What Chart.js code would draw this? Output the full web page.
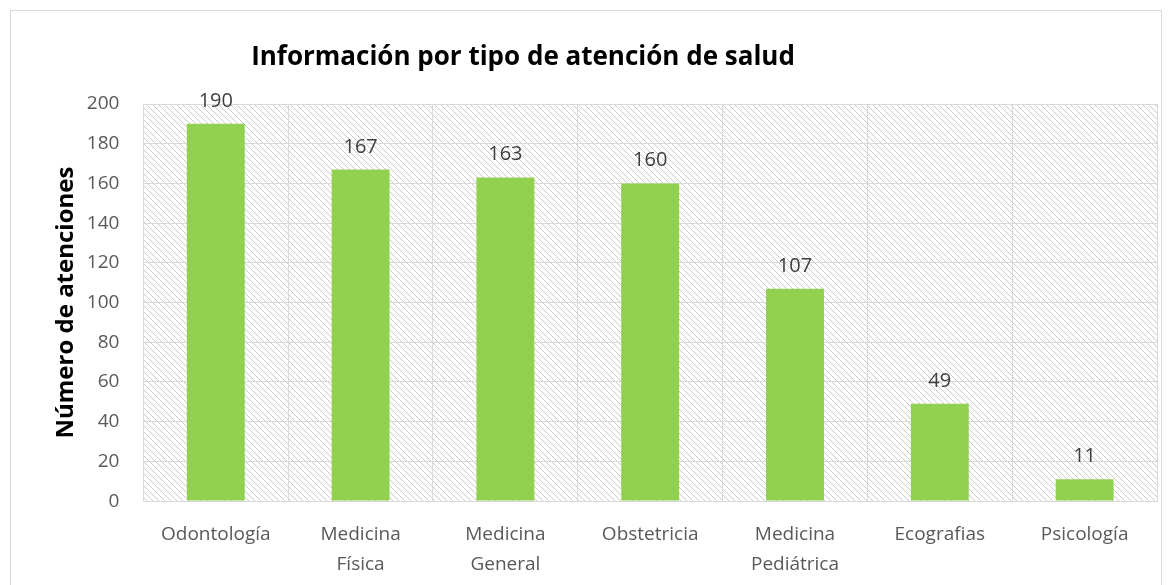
<!DOCTYPE html>
<html>
<head>
<meta charset="utf-8">
<script src="https://cdn.jsdelivr.net/npm/chart.js@4.4.0/dist/chart.umd.min.js"></script>
<style>
  html, body { margin: 0; padding: 0; background: #fff; }
  #wrap { position: relative; width: 1172px; height: 585px; }
  #frame { position: absolute; left: 10px; top: 10px; width: 1152px; height: 590px; border: 1px solid #d9d9d9; box-sizing: border-box; }
  canvas { position: absolute; left: 0; top: 0; }
</style>
</head>
<body>
<div id="wrap">
  <div id="frame"></div>
  <canvas id="atenciones" width="1172" height="585"></canvas>
</div>
<script>
// datos
const categorias = ['Odontología', ['Medicina', 'Física'], ['Medicina', 'General'], 'Obstetricia', ['Medicina', 'Pediátrica'], 'Ecografias', 'Psicología'];
const atenciones = [190, 167, 163, 160, 107, 49, 11];
const titulo = 'Información por tipo de atención de salud';
const tituloEje = 'Número de atenciones';

const fuente = '"Open Sans", Lato, sans-serif';

// fondo rayado del área de trazado
function patronRayas(ctx) {
    const c = document.createElement('canvas');
    c.width = 6; c.height = 6;
    const p = c.getContext('2d');
    p.strokeStyle = '#c9c9c9';
    p.lineWidth = 1;
    p.beginPath();
    p.moveTo(0, 0); p.lineTo(6, 6);
    p.moveTo(-3, 3); p.lineTo(3, 9);
    p.moveTo(3, -3); p.lineTo(9, 3);
    p.stroke();
    return ctx.createPattern(c, 'repeat');
}

const fondoRayado = {
    id: 'fondoRayado',
    beforeDraw(chart) {
        const { ctx, chartArea: a } = chart;
        ctx.save();
        ctx.fillStyle = patronRayas(ctx);
        ctx.fillRect(a.left, a.top, a.right - a.left, a.bottom - a.top);
        ctx.restore();
    }
};

const etiquetas = {
    id: 'etiquetas',
    afterDatasetsDraw(chart) {
        const { ctx } = chart;
        const meta = chart.getDatasetMeta(0);
        ctx.save();
        ctx.font = '20px ' + fuente;
        ctx.fillStyle = '#404040';
        ctx.textAlign = 'center';
        ctx.textBaseline = 'alphabetic';
        meta.data.forEach((bar, i) => {
            ctx.fillText(atenciones[i], bar.x, bar.y - 17);
        });
        ctx.restore();
    },
    afterDraw(chart) {
        const { ctx } = chart;
        ctx.save();
        ctx.font = 'bold 26px ' + fuente;
        ctx.fillStyle = '#000';
        ctx.textAlign = 'center';
        ctx.textBaseline = 'alphabetic';
        ctx.fillText(titulo, 523, 65);
        ctx.restore();
    }
};

new Chart(document.getElementById('atenciones'), {
    type: 'bar',
    data: {
        labels: categorias,
        datasets: [{
            data: atenciones,
            backgroundColor: '#92d050',
            barPercentage: 0.4,
            categoryPercentage: 1
        }]
    },
    options: {
        responsive: false,
        animation: false,
        layout: { padding: { left: 50, right: 15, top: 104, bottom: -13 } },
        plugins: { legend: { display: false }, tooltip: { enabled: false } },
        scales: {
            x: {
                grid: { color: '#d9d9d9', drawTicks: false },
                border: { color: '#d9d9d9' },
                ticks: { color: '#595959', font: { family: fuente, size: 19, lineHeight: 1.55 }, padding: 19, maxRotation: 0, autoSkip: false }
            },
            y: {
                min: 0, max: 200,
                ticks: { stepSize: 20, color: '#595959', font: { family: fuente, size: 19 }, padding: 24 },
                grid: { color: '#d9d9d9', drawTicks: false },
                border: { display: false },
                title: { display: true, text: tituloEje, color: '#000', font: { family: fuente, size: 24, weight: 'bold' }, padding: { top: 2, bottom: -18 } }
            }
        }
    },
    plugins: [fondoRayado, etiquetas]
});
</script>
</body>
</html>
